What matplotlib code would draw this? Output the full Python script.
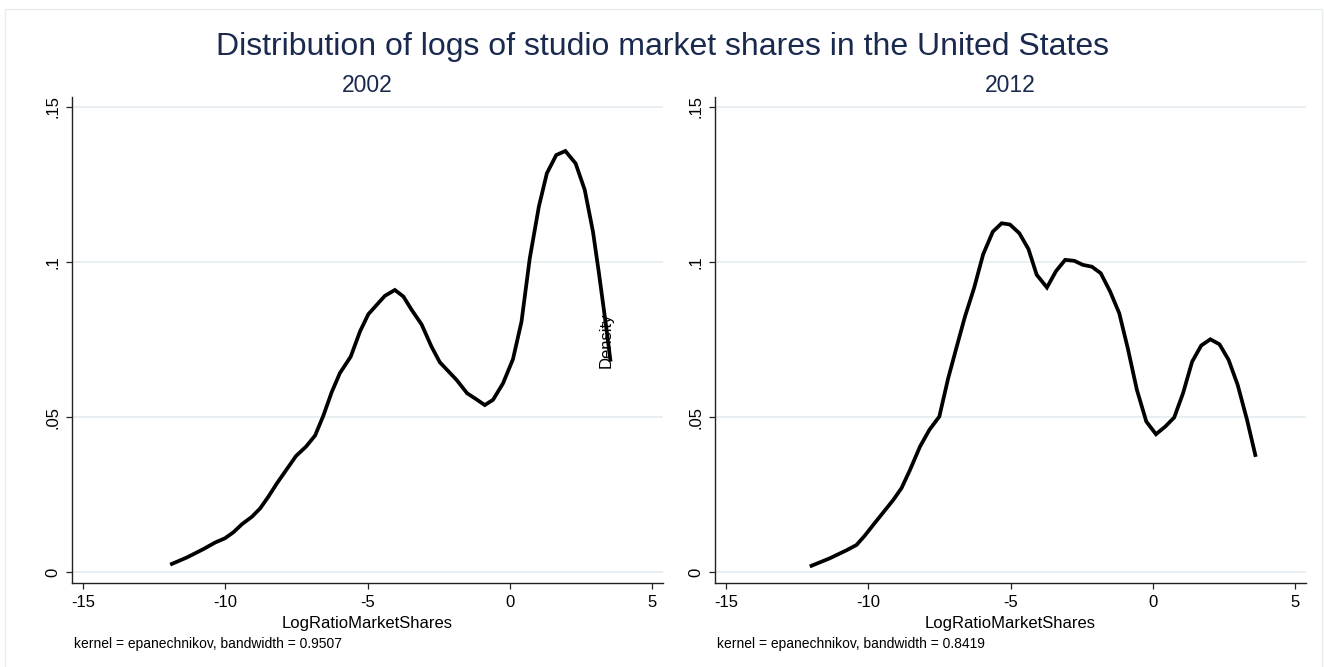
import matplotlib
matplotlib.use("Agg")
import matplotlib.pyplot as plt
from matplotlib.patches import Rectangle

plt.rcParams['font.family'] = ['Liberation Sans', 'DejaVu Sans']

# Kernel density estimates of log market-share ratios
x2002 = [-11.87, -11.34, -10.76, -10.35, -10.00, -9.71, -9.41, -9.06, -8.77, -8.48,
         -8.18, -7.83, -7.51, -7.16, -6.84, -6.55, -6.26, -5.97, -5.59, -5.26,
         -4.97, -4.39, -4.04, -3.74, -3.45, -3.10, -2.75, -2.46, -2.17, -1.87,
         -1.50, -1.20, -0.88, -0.59, -0.24, 0.11, 0.41, 0.70, 1.02, 1.30,
         1.63, 1.95, 2.31, 2.63, 2.92, 3.13, 3.39, 3.53]
d2002 = [0.0027, 0.0048, 0.0075, 0.0096, 0.0110, 0.0129, 0.0155, 0.0179, 0.0206, 0.0244,
         0.0287, 0.0333, 0.0375, 0.0405, 0.0441, 0.0505, 0.0580, 0.0642, 0.0695, 0.0777,
         0.0832, 0.0891, 0.0910, 0.0889, 0.0846, 0.0799, 0.0727, 0.0677, 0.0649, 0.0620,
         0.0577, 0.0559, 0.0539, 0.0556, 0.0609, 0.0687, 0.0808, 0.1012, 0.1179, 0.1286,
         0.1345, 0.1358, 0.1318, 0.1233, 0.1098, 0.0964, 0.0787, 0.0685]

x2012 = [-11.99, -11.35, -10.76, -10.41, -10.12, -9.82, -9.47, -9.12, -8.83, -8.53,
         -8.18, -7.85, -7.50, -7.19, -6.89, -6.60, -6.28, -5.96, -5.62, -5.31,
         -5.02, -4.69, -4.37, -4.08, -3.72, -3.40, -3.08, -2.76, -2.46, -2.14,
         -1.83, -1.50, -1.18, -0.88, -0.56, -0.23, 0.11, 0.44, 0.75, 1.06,
         1.38, 1.70, 2.02, 2.34, 2.66, 2.98, 3.31, 3.60]
d2012 = [0.0021, 0.0045, 0.0071, 0.0088, 0.0118, 0.0153, 0.0193, 0.0233, 0.0271, 0.0330,
         0.0405, 0.0459, 0.0502, 0.0625, 0.0727, 0.0824, 0.0916, 0.1025, 0.1098, 0.1125,
         0.1121, 0.1093, 0.1042, 0.0959, 0.0918, 0.0971, 0.1007, 0.1004, 0.0991, 0.0985,
         0.0964, 0.0905, 0.0835, 0.0722, 0.0588, 0.0486, 0.0445, 0.0470, 0.0499, 0.0577,
         0.0679, 0.0731, 0.0751, 0.0735, 0.0685, 0.0604, 0.0491, 0.0378]

years = ['2002', '2012']
bandwidths = ['0.9507', '0.8419']
yticks = [0, 0.05, 0.10, 0.15]
ytick_labels = ['0', '.05', '.1', '.15']
xticks = [-15, -10, -5, 0, 5]
xtick_labels = ['-15', '-10', '-5', '0', '5']

W, H = 1324, 667
navy = '#1a2a4e'
grid_col = '#e6eef1'

fig = plt.figure(figsize=(W / 100, H / 100), dpi=100)
fig.patch.set_facecolor('white')

# faint outer frame of the graph region
fig.patches.append(Rectangle((5 / W, -0.01), (1322 - 5) / W, 1 - 9 / H + 0.01,
                             transform=fig.transFigure, fill=False,
                             edgecolor='#e6ecef', lw=1.0))

fig.text(0.5, 1 - 47 / H, 'Distribution of logs of studio market shares in the United States',
         ha='center', va='center', fontsize=23, color=navy)

panels = [(72, x2002, d2002), (715, x2012, d2012)]
axes = []
for i, (left_px, xs, ds) in enumerate(panels):
    ax = fig.add_axes([left_px / W, 1 - 583.3 / H, 591 / W, 486.6 / H])
    ax.set_facecolor('white')
    ax.plot(xs, ds, color='black', lw=2.7, solid_joinstyle='miter', zorder=3)
    ax.set_xlim(-15.38, 5.38)
    ax.set_ylim(-0.00355, 0.1533)
    ax.set_yticks(yticks)
    ax.set_yticklabels(ytick_labels)
    ax.set_xticks(xticks)
    ax.set_xticklabels(xtick_labels)
    for y in yticks:
        ax.axhline(y, color=grid_col, lw=1.3, zorder=1)
    for s in ['top', 'right']:
        ax.spines[s].set_visible(False)
    for s in ['left', 'bottom']:
        ax.spines[s].set_color('#222222')
        ax.spines[s].set_linewidth(1.0)
    ax.tick_params(axis='y', length=4.5, width=0.9, color='#222222', labelsize=12,
                   labelrotation=90, pad=4)
    for lab in ax.get_yticklabels():
        lab.set_va('center')
    ax.tick_params(axis='x', length=4.5, width=0.9, color='#222222', labelsize=12, pad=4)
    ax.set_xlabel('LogRatioMarketShares', fontsize=12, labelpad=4)
    ax.set_title(years[i], fontsize=16.5, color=navy, pad=2)
    fig.text((left_px + 2) / W, 1 - 644 / H,
             'kernel = epanechnikov, bandwidth = ' + bandwidths[i],
             ha='left', va='center', fontsize=10)
    axes.append(ax)

# the density axis title of the second panel
axes[1].set_ylabel('Density', fontsize=12)
axes[1].yaxis.set_label_coords(-0.1717, 0.5)

fig.savefig('out.png', dpi=100, facecolor='white')
